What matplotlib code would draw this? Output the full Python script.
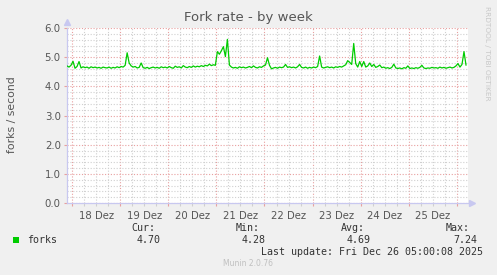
import matplotlib
matplotlib.use('Agg')
from matplotlib import pyplot as plt
from matplotlib.ticker import MultipleLocator, FuncFormatter

# hourly samples, first one at 17 Dez 21:30 (hours counted from 18 Dez 00:00)
forks = [4.70, 4.66, 4.72, 4.86, 4.62, 4.68, 4.85, 4.63, 4.67, 4.64,
         4.66, 4.62, 4.67, 4.64, 4.66, 4.63, 4.65, 4.62, 4.66, 4.64,
         4.63, 4.66, 4.62, 4.65, 4.63, 4.67, 4.64, 4.68, 4.66, 4.72,
         5.15, 4.80, 4.70, 4.66, 4.68, 4.63, 4.65, 4.80, 4.64, 4.62,
         4.65, 4.61, 4.64, 4.66, 4.63, 4.65, 4.62, 4.67, 4.64, 4.66,
         4.63, 4.68, 4.64, 4.62, 4.69, 4.65, 4.67, 4.63, 4.71, 4.66,
         4.64, 4.68, 4.65, 4.70, 4.66, 4.69, 4.67, 4.71, 4.68, 4.72,
         4.70, 4.76, 4.71, 4.74, 4.72, 5.19, 5.10, 5.22, 5.36, 5.02,
         5.61, 4.73, 4.66, 4.63, 4.65, 4.62, 4.67, 4.64, 4.66, 4.63,
         4.65, 4.68, 4.64, 4.70, 4.65, 4.63, 4.67, 4.65, 4.70, 4.73,
         4.98, 4.72, 4.60, 4.63, 4.65, 4.62, 4.66, 4.64, 4.66, 4.75,
         4.65, 4.67, 4.64, 4.66, 4.63, 4.67, 4.75, 4.65, 4.63, 4.66,
         4.62, 4.65, 4.63, 4.66, 4.64, 4.68, 5.04, 4.66, 4.63, 4.65,
         4.67, 4.64, 4.66, 4.63, 4.67, 4.65, 4.68, 4.66, 4.70, 4.74,
         4.88, 4.82, 4.75, 5.47, 4.78, 4.66, 4.85, 4.68, 4.85, 4.66,
         4.70, 4.80, 4.68, 4.75, 4.65, 4.68, 4.73, 4.64, 4.66, 4.62,
         4.64, 4.61, 4.65, 4.76, 4.63, 4.61, 4.63, 4.60, 4.64, 4.62,
         4.70, 4.61, 4.63, 4.61, 4.64, 4.62, 4.65, 4.72, 4.63, 4.61,
         4.63, 4.62, 4.65, 4.63, 4.64, 4.62, 4.66, 4.63, 4.65, 4.62,
         4.64, 4.66, 4.63, 4.65, 4.70, 4.78, 4.66, 4.75, 5.19, 4.73]
hours = [i - 2.5 for i in range(len(forks))]

days = ['18 Dez', '19 Dez', '20 Dez', '21 Dez', '22 Dez', '23 Dez', '24 Dez', '25 Dez']
stat_names = ['Cur:', 'Min:', 'Avg:', 'Max:']
stat_values = ['4.70', '4.28', '4.69', '7.24']

W, H = 497, 275
fig = plt.figure(figsize=(W / 100, H / 100), dpi=100, facecolor='#f0f0f0')
ax = fig.add_axes([67 / W, 72 / H, 401 / W, 175 / H])
ax.set_facecolor('white')

ax.plot(hours, forks, color='#00cc00', lw=0.9, zorder=3)

ax.set_xlim(-2.5, 197.5)
ax.set_ylim(0, 6)
ax.xaxis.set_major_locator(MultipleLocator(24))
ax.xaxis.set_minor_locator(MultipleLocator(6))
ax.yaxis.set_major_locator(MultipleLocator(1))
ax.yaxis.set_minor_locator(MultipleLocator(0.2))
ax.xaxis.set_major_formatter(FuncFormatter(lambda v, p: ''))

def day_label(v, p):
  if int(round(v)) % 24 == 12:
    i = int(round(v)) // 24
    if 0 <= i < len(days):
      return days[i]
  return ''
ax.xaxis.set_minor_formatter(FuncFormatter(day_label))
ax.yaxis.set_major_formatter(FuncFormatter(lambda v, p: '%.1f' % v))

dots = (0, (1, 1.6))
ax.grid(which='major', color='#e8a0a0', lw=0.8, linestyle=dots, zorder=1)
ax.grid(which='minor', color='#d0d0d0', lw=0.8, linestyle=dots, zorder=1)
ax.tick_params(which='both', direction='out', length=2.5, width=0.8, labelsize=7.3,
               labelcolor='#555555', pad=2)
ax.tick_params(which='major', color='#e8a0a0')
ax.tick_params(which='minor', color='#cfcfcf')
ax.tick_params(axis='y', which='minor', length=0)
ax.tick_params(axis='x', which='minor', pad=3)

for s in ['top', 'right']:
  ax.spines[s].set_visible(False)
for s in ['left', 'bottom']:
  ax.spines[s].set_color('#c8c8f0')
  ax.spines[s].set_linewidth(0.9)
ax.plot([0], [1.035], marker='^', color='#c8c8f0', ms=4, transform=ax.transAxes, clip_on=False)
ax.plot([1.01], [0], marker='>', color='#c8c8f0', ms=4, transform=ax.transAxes, clip_on=False)

fig.text(248 / W, 1 - 18 / H, 'Fork rate - by week', ha='center', va='center',
         fontsize=9.5, color='#555555')
fig.text(12 / W, 1 - 115 / H, 'forks / second', ha='center', va='center',
         rotation=90, fontsize=7.8, color='#555555')
fig.text(487 / W, 1 - 6 / H, 'RRDTOOL / TOBI OETIKER', ha='center', va='top',
         rotation=-90, fontsize=5.3, color='#c8c8c8')

mono = 'DejaVu Sans Mono'
fig.patches.append(plt.Rectangle((13 / W, 1 - 243 / H), 6 / W, 6 / H, transform=fig.transFigure,
                                 facecolor='#00cc00', edgecolor='none'))
fig.text(27 / W, 1 - 240 / H, 'forks', ha='left', va='center', family=mono, fontsize=7.2, color='#333333')
name_x = [155, 260, 365, 470]
val_x = [161, 266, 371, 477]
for n, v, nx, vx in zip(stat_names, stat_values, name_x, val_x):
  fig.text(nx / W, 1 - 228 / H, n, ha='right', va='center', family=mono, fontsize=7.2, color='#333333')
  fig.text(vx / W, 1 - 240 / H, v, ha='right', va='center', family=mono, fontsize=7.2, color='#333333')
fig.text(483 / W, 1 - 252 / H, 'Last update: Fri Dec 26 05:00:08 2025', ha='right', va='center',
         family=mono, fontsize=7.2, color='#333333')
fig.text(248 / W, 1 - 264 / H, 'Munin 2.0.76', ha='center', va='center', fontsize=5.5, color='#c0c0c0')

fig.savefig('out.png', dpi=100, facecolor=fig.get_facecolor())
